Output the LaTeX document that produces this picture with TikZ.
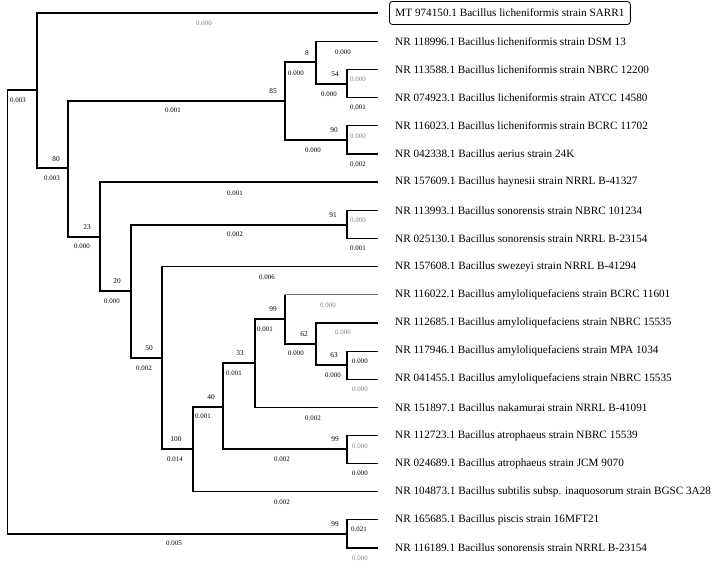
\documentclass[tikz,border=0pt]{standalone}
\usepackage{fontspec}
\setmainfont{Liberation Serif}
\begin{document}
\begin{tikzpicture}[x=1pt,y=-1pt,
  br/.style={line width=1.1pt,black},
  brgray/.style={line width=0.7pt,black!55},
  leaf/.style={anchor=west,inner xsep=6pt,inner ysep=2pt,font=\fontsize{11.2}{13}\selectfont},
  bs/.style={font=\fontsize{7.3}{8}\selectfont,inner sep=0pt},
  bl/.style={font=\fontsize{6.9}{7}\selectfont,inner sep=0pt},
  blg/.style={bl,text=black!50}]
\useasboundingbox (0,0) rectangle (717,565);
% internal nodes
\coordinate (root) at (7.5,312);
\coordinate (rt) at (37,90);
\coordinate (n80) at (68,168);
\coordinate (n85) at (285,101);
\coordinate (n8) at (316,62);
\coordinate (n54) at (347,84);
\coordinate (n90) at (347,140);
\coordinate (n23) at (100,237);
\coordinate (n20) at (131,291);
\coordinate (n91) at (347,225);
\coordinate (n50) at (162,358);
\coordinate (n100) at (193,449);
\coordinate (n40) at (223,407);
\coordinate (n33) at (255,363);
\coordinate (n99a) at (285,319);
\coordinate (n62) at (316,344);
\coordinate (n63) at (347,365);
\coordinate (n99b) at (347,449);
\coordinate (n99c) at (347,534);
% leaves
\foreach \i/\y in {1/13,2/41.5,3/69.5,4/97.7,5/125.8,6/154,7/182,8/210.5,9/238.6,10/266.7,11/294.8,12/323,13/351.1,14/379.2,15/407.3,16/435.5,17/463.6,18/491.7,19/519.9,20/548}
  \coordinate (l\i) at (378,\y);
% leaf labels
\node[leaf,draw,rounded corners=3pt,line width=0.8pt,minimum height=23pt] (t1) at (389,13) {MT 974150.1 Bacillus licheniformis strain SARR1};
\node[leaf] (t2) at (389,41.5) {NR 118996.1 Bacillus licheniformis strain DSM 13};
\node[leaf] (t3) at (389,69.5) {NR 113588.1 Bacillus licheniformis strain NBRC 12200};
\node[leaf] (t4) at (389,97.7) {NR 074923.1 Bacillus licheniformis strain ATCC 14580};
\node[leaf] (t5) at (389,125.8) {NR 116023.1 Bacillus licheniformis strain BCRC 11702};
\node[leaf] (t6) at (389,154) {NR 042338.1 Bacillus aerius strain 24K};
\node[leaf] (t7) at (389,182) {NR 157609.1 Bacillus haynesii strain NRRL B-41327};
\node[leaf] (t8) at (389,210.5) {NR 113993.1 Bacillus sonorensis strain NBRC 101234};
\node[leaf] (t9) at (389,238.6) {NR 025130.1 Bacillus sonorensis strain NRRL B-23154};
\node[leaf] (t10) at (389,266.7) {NR 157608.1 Bacillus swezeyi strain NRRL B-41294};
\node[leaf] (t11) at (389,294.8) {NR 116022.1 Bacillus amyloliquefaciens strain BCRC 11601};
\node[leaf] (t12) at (389,323) {NR 112685.1 Bacillus amyloliquefaciens strain NBRC 15535};
\node[leaf] (t13) at (389,351.1) {NR 117946.1 Bacillus amyloliquefaciens strain MPA 1034};
\node[leaf] (t14) at (389,379.2) {NR 041455.1 Bacillus amyloliquefaciens strain NBRC 15535};
\node[leaf] (t15) at (389,407.3) {NR 151897.1 Bacillus nakamurai strain NRRL B-41091};
\node[leaf] (t16) at (389,435.5) {NR 112723.1 Bacillus atrophaeus strain NBRC 15539};
\node[leaf] (t17) at (389,463.6) {NR 024689.1 Bacillus atrophaeus strain JCM 9070};
\node[leaf] (t18) at (389,491.7) {NR 104873.1 Bacillus subtilis subsp. inaquosorum strain BGSC 3A28};
\node[leaf] (t19) at (389,519.9) {NR 165685.1 Bacillus piscis strain 16MFT21};
\node[leaf] (t20) at (389,548) {NR 116189.1 Bacillus sonorensis strain NRRL B-23154};
% branches
\draw[br] (root) |- (rt);
\draw[br] (root) |- (n99c);
\draw[br] (rt) |- (l1);
\draw[br] (rt) |- (n80);
\draw[br] (n80) |- (n85);
\draw[br] (n80) |- (n23);
\draw[br] (n85) |- (n8);
\draw[br] (n85) |- (n90);
\draw[br] (n8) |- (l2);
\draw[br] (n8) |- (n54);
\draw[br] (n54) |- (l3);
\draw[br] (n54) |- (l4);
\draw[br] (n90) |- (l5);
\draw[br] (n90) |- (l6);
\draw[br] (n23) |- (l7);
\draw[br] (n23) |- (n20);
\draw[br] (n20) |- (n91);
\draw[br] (n20) |- (n50);
\draw[br] (n91) |- (l8);
\draw[br] (n91) |- (l9);
\draw[br] (n50) |- (l10);
\draw[br] (n50) |- (n100);
\draw[br] (n100) |- (n40);
\draw[br] (n100) |- (l18);
\draw[br] (n40) |- (n33);
\draw[br] (n40) |- (n99b);
\draw[br] (n33) |- (n99a);
\draw[br] (n33) |- (l15);
\draw[br] (n99a) -- (n99a |- l11);
\draw[brgray] (n99a |- l11) -- (l11);
\draw[br] (n99a) |- (n62);
\draw[br] (n62) |- (l12);
\draw[br] (n62) |- (n63);
\draw[br] (n63) |- (l13);
\draw[br] (n63) |- (l14);
\draw[br] (n99b) |- (l16);
\draw[br] (n99b) |- (l17);
\draw[br] (n99c) |- (l19);
\draw[br] (n99c) |- (l20);
% bootstrap values
\node[bs] (b80) at (56,159) {80};
\node[bs] (b85) at (273,91) {85};
\node[bs] (b8) at (307,53) {8};
\node[bs] (b54) at (335,74) {54};
\node[bs] (b90) at (334,130) {90};
\node[bs] (b23) at (87,227) {23};
\node[bs] (b91) at (333,215) {91};
\node[bs] (b20) at (117,281) {20};
\node[bs] (b50) at (149,348) {50};
\node[bs] (b99a) at (273,309) {99};
\node[bs] (b62) at (304,334) {62};
\node[bs] (b63) at (334,355) {63};
\node[bs] (b33) at (240,353) {33};
\node[bs] (b40) at (211,397) {40};
\node[bs] (b100) at (176,439) {100};
\node[bs] (b99b) at (335,439) {99};
\node[bs] (b99c) at (335,524) {99};
% branch lengths
\node[blg] (e1) at (204,23) {0.000};
\node[bl] (ert) at (18,100) {0.003};
\node[bl] (e80) at (52,178) {0.003};
\node[bl] (e85) at (173,110) {0.001};
\node[bl] (e8) at (296,73) {0.000};
\node[bl] (e2) at (343,52) {0.000};
\node[bl] (e54) at (329,94) {0.000};
\node[blg] (e3) at (358,79) {0.000};
\node[bl] (e4) at (358,107) {0.001};
\node[bl] (e90) at (313,150) {0.000};
\node[blg] (e5) at (358,136) {0.000};
\node[bl] (e6) at (358,164) {0.002};
\node[bl] (e7) at (235,193) {0.001};
\node[bl] (e23) at (82,246) {0.000};
\node[bl] (e91) at (235,234) {0.002};
\node[blg] (e8b) at (358,220) {0.000};
\node[bl] (e9) at (358,248) {0.001};
\node[bl] (e20) at (112,301) {0.000};
\node[bl] (e10) at (267,277) {0.006};
\node[bl] (e50) at (144,368) {0.002};
\node[bl] (e99a) at (265,329) {0.001};
\node[blg] (e11) at (328,305) {0.000};
\node[bl] (e62) at (296,353) {0.000};
\node[blg] (e12) at (343,332) {0.000};
\node[bl] (e63) at (333,375) {0.000};
\node[bl] (e13) at (360,361) {0.000};
\node[blg] (e14) at (360,389) {0.000};
\node[bl] (e33) at (234,373) {0.001};
\node[bl] (e15) at (313,418) {0.002};
\node[bl] (e40) at (203,416) {0.001};
\node[bl] (e100) at (175,459) {0.014};
\node[bl] (e99b) at (282,459) {0.002};
\node[blg] (e16) at (360,446) {0.000};
\node[bl] (e17) at (360,473) {0.000};
\node[bl] (e18) at (282,502) {0.002};
\node[bl] (e19) at (359,529) {0.021};
\node[bl] (e99c) at (174,543) {0.005};
\node[blg] (e20b) at (360,558) {0.000};
\end{tikzpicture}
\end{document}
